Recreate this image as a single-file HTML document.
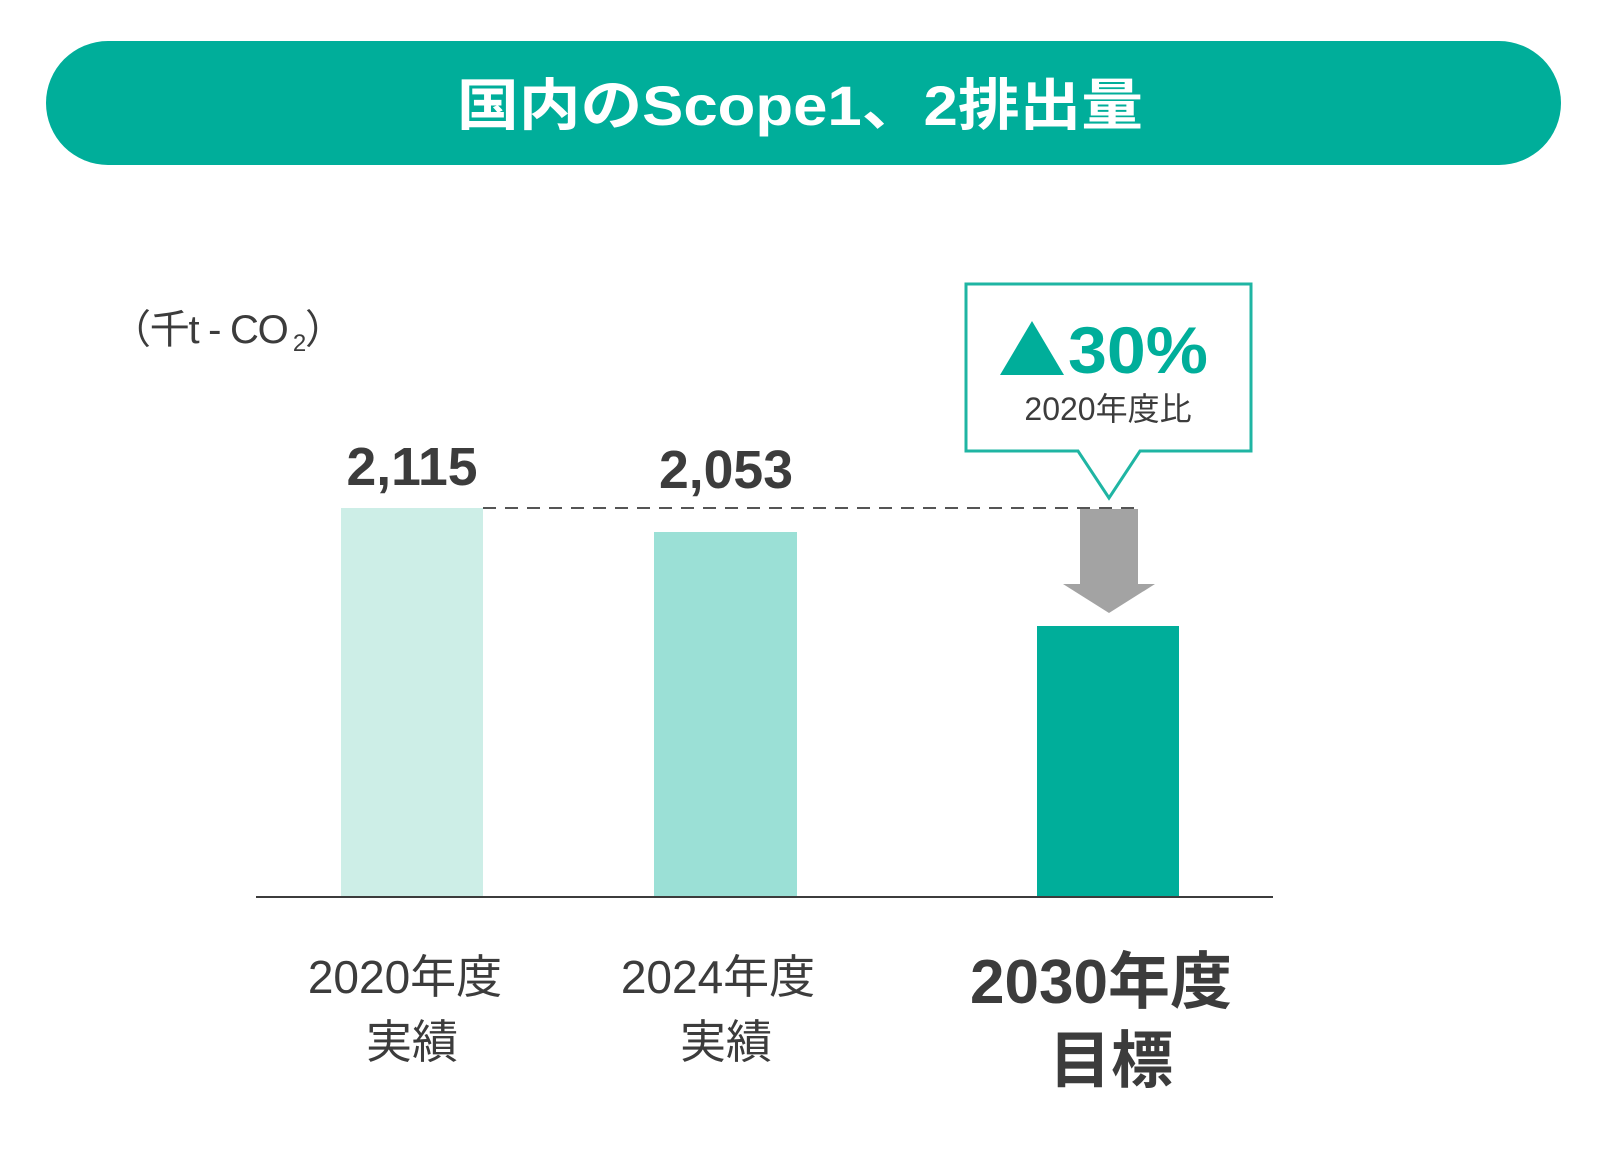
<!DOCTYPE html>
<html><head><meta charset="utf-8"><style>
html,body{margin:0;padding:0;background:#fff}
svg{display:block}
text{font-family:"Liberation Sans","Noto Sans CJK JP",sans-serif}
</style></head><body>
<svg width="1614" height="1161" viewBox="0 0 1614 1161" xmlns="http://www.w3.org/2000/svg">
<rect x="46" y="41" width="1515" height="124" rx="62" fill="#00ae9a"/>
<text x="800" y="125" text-anchor="middle" font-size="56" font-weight="bold" fill="#fff" textLength="686" lengthAdjust="spacingAndGlyphs">国内のScope1、2排出量</text>
<text x="111" y="343" font-size="40" fill="#3c3c3c" textLength="234" lengthAdjust="spacing">（千t - CO<tspan font-size="24" dy="8"> 2</tspan><tspan dy="-8">）</tspan></text>
<rect x="341" y="508" width="142" height="389" fill="#cdeee7"/>
<rect x="654" y="532" width="143" height="365" fill="#9be0d6"/>
<rect x="1037" y="626" width="142" height="271" fill="#00ae9a"/>
<line x1="483" y1="508" x2="1138" y2="508" stroke="#555" stroke-width="2" stroke-dasharray="13,9"/>
<line x1="256" y1="897" x2="1273" y2="897" stroke="#3c3c3c" stroke-width="2"/>
<polygon points="1080,509 1138,509 1138,584 1155,584 1109,613 1063,584 1080,584" fill="#a3a3a3"/>
<polygon points="966,284 1251,284 1251,451 1140,451 1109,498 1078,451 966,451" fill="#fff" stroke="#1fb5a3" stroke-width="3"/>
<polygon points="1000,375 1032,321 1064,375" fill="#00ae9a"/>
<text x="1138" y="373" text-anchor="middle" font-size="66" font-weight="bold" fill="#00ae9a" textLength="140" lengthAdjust="spacingAndGlyphs">30%</text>
<text x="1108" y="420" text-anchor="middle" font-size="32" fill="#3c3c3c">2020年度比</text>
<text x="412" y="485" text-anchor="middle" font-size="54" font-weight="bold" fill="#3c3c3c" textLength="131" lengthAdjust="spacingAndGlyphs">2,115</text>
<text x="726" y="488" text-anchor="middle" font-size="54" font-weight="bold" fill="#3c3c3c" textLength="134" lengthAdjust="spacingAndGlyphs">2,053</text>
<text x="405" y="993" text-anchor="middle" font-size="46" fill="#3c3c3c">2020年度</text>
<text x="412" y="1058" text-anchor="middle" font-size="46" fill="#3c3c3c">実績</text>
<text x="718" y="993" text-anchor="middle" font-size="46" fill="#3c3c3c">2024年度</text>
<text x="726" y="1058" text-anchor="middle" font-size="46" fill="#3c3c3c">実績</text>
<text x="1101" y="1003" text-anchor="middle" font-size="62" font-weight="bold" fill="#3c3c3c">2030年度</text>
<text x="1111" y="1082" text-anchor="middle" font-size="62" font-weight="bold" fill="#3c3c3c">目標</text>
</svg>
</body></html>
